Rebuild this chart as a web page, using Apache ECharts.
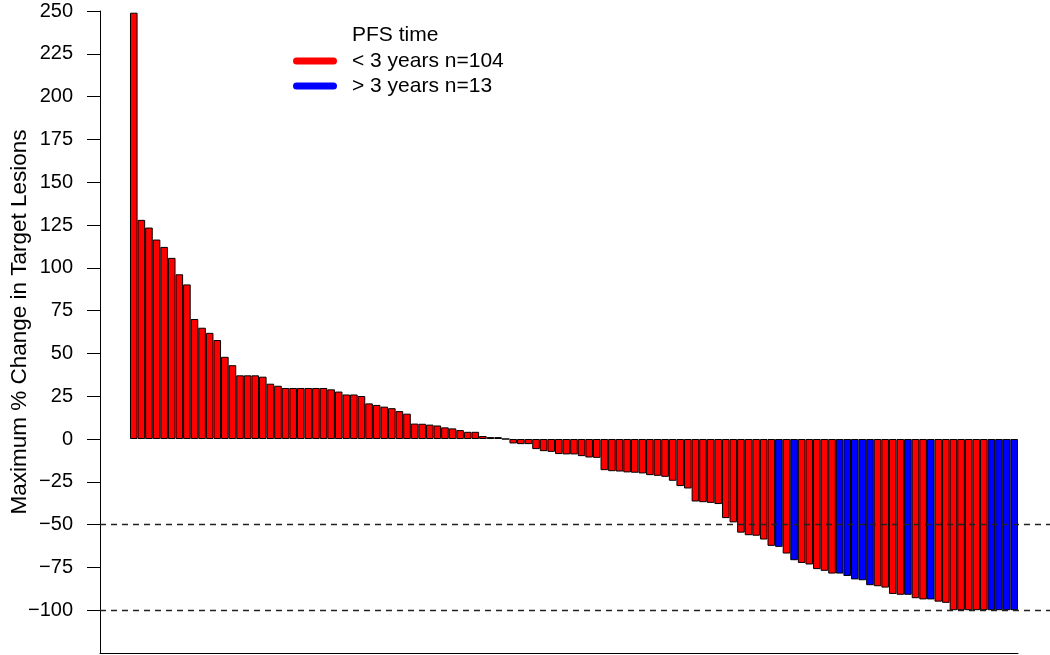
<!DOCTYPE html>
<html>
<head>
<meta charset="utf-8">
<script src="https://cdn.jsdelivr.net/npm/echarts@6/dist/echarts.min.js"></script>
<style>
html,body{margin:0;padding:0;background:#ffffff;}
#chart{width:1050px;height:655px;}
</style>
</head>
<body>
<div id="chart"></div>
<script>
// ---- data ----
const changeValues = [
  249, 128, 123.5, 116.5, 112.2, 105.8, 96.2, 90.3, 70.1, 65,
  62, 57.8, 48, 43.1, 37.2, 37.2, 37.2, 36.4, 32.3, 31.1,
  29.8, 29.8, 29.8, 29.8, 29.8, 29.8, 29, 27.7, 26, 26,
  25.1, 20.8, 19.9, 18.9, 18, 16.3, 14.8, 9, 8.9, 8.4,
  7.9, 6.8, 6.2, 5.2, 4.2, 4.2, 1.7, 1.1, 1.1, 0,
  -2.6, -3, -3, -5.9, -7.1, -7.5, -8.8, -9, -9, -10,
  -10.8, -11, -18.2, -18.8, -19, -19.5, -19.7, -20.1, -21.1, -21.5,
  -22.1, -24.4, -27.5, -28.9, -36.5, -36.9, -37.3, -38, -46.2, -48.7,
  -54.7, -56.2, -56.5, -58.7, -62.4, -63, -66.9, -70.8, -72.4, -73.3,
  -76, -77, -78.6, -78.6, -80, -82, -82.5, -85.4, -86, -86.8,
  -90.5, -91, -91, -93, -93.7, -93.7, -95, -95.7, -100, -100,
  -100, -100, -100, -100, -100, -100, -100
];
// 0 = PFS < 3 years, 1 = PFS > 3 years
const pfsGroup = [
  0,0,0,0,0,0,0,0,0,0, 0,0,0,0,0,0,0,0,0,0,
  0,0,0,0,0,0,0,0,0,0, 0,0,0,0,0,0,0,0,0,0,
  0,0,0,0,0,0,0,0,0,0, 0,0,0,0,0,0,0,0,0,0,
  0,0,0,0,0,0,0,0,0,0, 0,0,0,0,0,0,0,0,0,0,
  0,0,0,0,0,1,0,1,0,0, 0,0,0,1,1,1,1,1,0,0,
  0,0,1,0,0,1,0,0,0,0, 0,0,0,1,1,1,1
];
const groupNames = ['< 3 years n=104', '> 3 years n=13'];
const groupColors = ['#ff0000', '#0000ff'];
const legendTitle = 'PFS time';
const yAxisTitle = 'Maximum % Change in Target Lesions';
const yTickValues = [-100, -75, -50, -25, 0, 25, 50, 75, 100, 125, 150, 175, 200, 225, 250];
const refLines = [-50, -100];

// ---- layout ----
const FONT = '"Liberation Sans", Arial, Helvetica, sans-serif';
const W = 1050, GRID_LEFT = 100, GRID_RIGHT = 0;
const xMin = 0.5 - 3.95, xMax = changeValues.length + 0.5 + 4.22;
const barPx = (W - GRID_LEFT - GRID_RIGHT) / (xMax - xMin);

const seriesData = [[], []];
changeValues.forEach((v, i) => { seriesData[pfsGroup[i]].push([i + 1, v]); });

const chart = echarts.init(document.getElementById('chart'), null, {renderer: 'canvas'});
const capsule = 'path://M3.5,0 L40.5,0 A3.5,3.5 0 0 1 40.5,7 L3.5,7 A3.5,3.5 0 0 1 3.5,0 Z';

chart.setOption({
  animation: false,
  backgroundColor: '#ffffff',
  title: {
    text: legendTitle, left: 352, top: 25, padding: 0,
    textStyle: {fontFamily: FONT, fontSize: 21, fontWeight: 'normal', color: '#000'}
  },
  legend: {
    orient: 'vertical', left: 293, top: 49, padding: 0, itemGap: 1,
    itemWidth: 44, itemHeight: 7, icon: capsule,
    itemStyle: {borderWidth: 0},
    textStyle: {fontFamily: FONT, fontSize: 21, color: '#000', lineHeight: 24, padding: [0, 0, 0, 10]},
    data: groupNames
  },
  grid: [
    {left: GRID_LEFT, right: GRID_RIGHT, top: 11, bottom: 2, containLabel: false, outerBoundsMode: 'none'},
    {left: GRID_LEFT, right: 32, top: 11, bottom: 2, containLabel: false, outerBoundsMode: 'none'}
  ],
  xAxis: [
    {gridIndex: 0, type: 'value', min: xMin, max: xMax,
     axisLine: {show: false}, axisTick: {show: false}, axisLabel: {show: false}, splitLine: {show: false}},
    {gridIndex: 1, type: 'value', min: 0, max: 1, position: 'bottom',
     axisLine: {show: true, onZero: false, lineStyle: {color: '#000', width: 1}},
     axisTick: {show: false}, axisLabel: {show: false}, splitLine: {show: false}}
  ],
  yAxis: [
    {gridIndex: 0, type: 'value', min: -125, max: 250, interval: 25,
     name: yAxisTitle, nameLocation: 'middle', nameRotate: 90, nameGap: 69, nameMoveOverlap: false,
     nameTextStyle: {fontFamily: FONT, fontSize: 22.5, color: '#000', padding: [0, 0, 0, 20]},
     axisLine: {show: true, onZero: false, lineStyle: {color: '#000', width: 1}},
     axisTick: {show: true, length: 13, lineStyle: {color: '#000', width: 1}, customValues: yTickValues},
     axisLabel: {show: true, margin: 27, fontFamily: FONT, fontSize: 20, color: '#000',
       customValues: yTickValues,
       formatter: v => String(v).replace('-', '\u2212')},
     splitLine: {show: false}},
    {gridIndex: 1, type: 'value', min: -125, max: 250, show: false}
  ],
  series: [0, 1].map(g => ({
    name: groupNames[g],
    type: 'bar',
    xAxisIndex: 0, yAxisIndex: 0,
    data: seriesData[g],
    barWidth: barPx,
    barGap: '-100%',
    itemStyle: {color: groupColors[g], borderColor: '#000', borderWidth: 1},
    emphasis: {disabled: true},
    markLine: g === 1 ? {
      silent: true, symbol: 'none', label: {show: false}, z: 10,
      lineStyle: {color: '#222', type: [6, 5], width: 1.3},
      data: refLines.map(v => ({yAxis: v}))
    } : undefined
  }))
});
</script>
</body>
</html>
